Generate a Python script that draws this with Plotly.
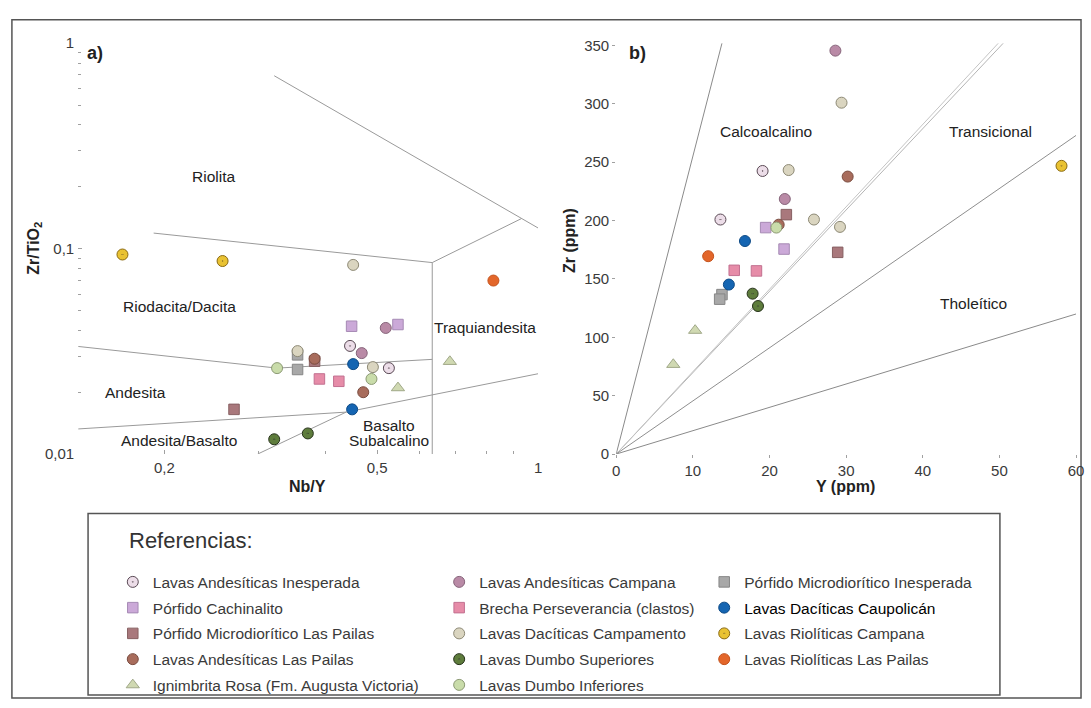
import numpy as np
import plotly.graph_objects as go

W, H = 1091, 708


def px(x):
    return x / W


def py(y):
    return 1 - y / H


# ---------------- Panel a data: Nb/Y (x) vs Zr/TiO2 (y) ----------------
a_inesperada_x = [0.445, 0.526]
a_inesperada_y = [0.0336, 0.0262]
a_cachinalito_x = [0.448, 0.547]
a_cachinalito_y = [0.0419, 0.0427]
a_pmd_pailas_x = [0.382, 0.270]
a_pmd_pailas_y = [0.0283, 0.0165]
a_and_pailas_x = [0.382, 0.471]
a_and_pailas_y = [0.0291, 0.0200]
a_ignimbrita_x = [0.684, 0.547]
a_ignimbrita_y = [0.0282, 0.0210]
a_and_campana_x = [0.519, 0.468]
a_and_campana_y = [0.0411, 0.0310]
a_brecha_x = [0.390, 0.424]
a_brecha_y = [0.0232, 0.0226]
a_campamento_x = [0.451, 0.355, 0.491]
a_campamento_y = [0.0833, 0.0317, 0.0265]
a_dumbo_sup_x = [0.321, 0.371]
a_dumbo_sup_y = [0.0118, 0.0126]
a_dumbo_inf_x = [0.325, 0.488]
a_dumbo_inf_y = [0.0262, 0.0232]
a_pmd_inesperada_x = [0.355, 0.355]
a_pmd_inesperada_y = [0.0304, 0.0258]
a_caupolican_x = [0.451, 0.449]
a_caupolican_y = [0.0274, 0.0165]
a_riol_campana_x = [0.167, 0.257]
a_riol_campana_y = [0.0936, 0.0870]
a_riol_pailas_x = [0.825]
a_riol_pailas_y = [0.0699]

# ---------------- Panel b data: Y (x) vs Zr (y), ppm ----------------
b_inesperada_x = [19.1, 13.6]
b_inesperada_y = [242.5, 200.9]
b_cachinalito_x = [19.5, 21.9]
b_cachinalito_y = [194.0, 175.6]
b_pmd_pailas_x = [22.2, 28.9]
b_pmd_pailas_y = [205.1, 172.8]
b_and_pailas_x = [30.2, 21.2]
b_and_pailas_y = [237.7, 196.5]
b_ignimbrita_x = [10.3, 7.45]
b_ignimbrita_y = [105.9, 76.7]
b_and_campana_x = [28.6, 22.0]
b_and_campana_y = [345.6, 218.5]
b_brecha_x = [15.4, 18.3]
b_brecha_y = [157.4, 156.9]
b_campamento_x = [29.4, 22.5, 29.2, 25.8]
b_campamento_y = [301.0, 243.3, 194.6, 200.9]
b_dumbo_sup_x = [17.8, 18.5]
b_dumbo_sup_y = [137.4, 126.8]
b_dumbo_inf_x = [20.9]
b_dumbo_inf_y = [194.0]
b_pmd_inesperada_x = [13.8, 13.5]
b_pmd_inesperada_y = [136.6, 132.7]
b_caupolican_x = [16.8, 14.7]
b_caupolican_y = [182.5, 145.2]
b_riol_campana_x = [58.1]
b_riol_campana_y = [246.9]
b_riol_pailas_x = [12.0]
b_riol_pailas_y = [169.5]

# ---------------- Field boundaries ----------------
# panel a (Winchester & Floyd type diagram), in data units
bnd_a_riolita_x = [0.321, 1.0]
bnd_a_riolita_y = [0.694, 0.126]
bnd_a_traq_diag_x = [0.634, 0.931]
bnd_a_traq_diag_y = [0.0855, 0.140]
bnd_a_riodacita_x = [0.191, 0.634]
bnd_a_riodacita_y = [0.119, 0.0855]
bnd_a_vert_x = [0.634, 0.634]
bnd_a_vert_y = [0.0855, 0.01]
bnd_a_andesita_x = [0.138, 0.325, 0.634]
bnd_a_andesita_y = [0.0334, 0.0262, 0.0289]
bnd_a_basalto_x = [0.138, 0.4375, 1.0]
bnd_a_basalto_y = [0.01325, 0.0160, 0.0246]
bnd_a_diag_x = [0.299, 0.4375]
bnd_a_diag_y = [0.01, 0.0160]
# panel b: Zr/Y ratio lines through the origin
bnd_b_slopes = [25.5, 6.97, 7.06, 4.55, 2.0]
bnd_b_colors = ["#8a8a8a", "#b4b4b4", "#c4c4c4", "#8e8e8e", "#8a8a8a"]

# ---------------- Series styles ----------------
series = [
    # name, a-data, b-data, symbol, fill, line, legend, zorder
    ("Lavas Andesíticas Inesperada", a_inesperada_x, a_inesperada_y, b_inesperada_x, b_inesperada_y,
     "circle-dot", "#ecdde8", "#5a4a55", "legend", 2),
    ("Pórfido Cachinalito", a_cachinalito_x, a_cachinalito_y, b_cachinalito_x, b_cachinalito_y,
     "square", "#cba9d8", "#a68ab4", "legend", 1),
    ("Pórfido Microdiorítico Las Pailas", a_pmd_pailas_x, a_pmd_pailas_y, b_pmd_pailas_x, b_pmd_pailas_y,
     "square", "#a9787c", "#876062", "legend", 1),
    ("Lavas Andesíticas Las Pailas", a_and_pailas_x, a_and_pailas_y, b_and_pailas_x, b_and_pailas_y,
     "circle", "#a86c5c", "#7a4c40", "legend", 2),
    ("Ignimbrita Rosa (Fm. Augusta Victoria)", a_ignimbrita_x, a_ignimbrita_y, b_ignimbrita_x, b_ignimbrita_y,
     "triangle-up", "#d0d9b2", "#a0a888", "legend", 2),
    ("Lavas Andesíticas Campana", a_and_campana_x, a_and_campana_y, b_and_campana_x, b_and_campana_y,
     "circle", "#b98aa6", "#87657b", "legend2", 2),
    ("Brecha Perseverancia (clastos)", a_brecha_x, a_brecha_y, b_brecha_x, b_brecha_y,
     "square", "#e68ca8", "#c27090", "legend2", 1),
    ("Lavas Dacíticas Campamento", a_campamento_x, a_campamento_y, b_campamento_x, b_campamento_y,
     "circle", "#dad5c0", "#8d8975", "legend2", 3),
    ("Lavas Dumbo Superiores", a_dumbo_sup_x, a_dumbo_sup_y, b_dumbo_sup_x, b_dumbo_sup_y,
     "circle-dot", "#5e7c3c", "#26321a", "legend2", 2),
    ("Lavas Dumbo Inferiores", a_dumbo_inf_x, a_dumbo_inf_y, b_dumbo_inf_x, b_dumbo_inf_y,
     "circle", "#c9dcaa", "#8c9a74", "legend2", 2),
    ("Pórfido Microdiorítico Inesperada", a_pmd_inesperada_x, a_pmd_inesperada_y, b_pmd_inesperada_x,
     b_pmd_inesperada_y, "square", "#a8a8a8", "#868686", "legend3", 1),
    ("<span style='color:#000'>Lavas Dacíticas Caupolicán</span>", a_caupolican_x, a_caupolican_y,
     b_caupolican_x, b_caupolican_y, "circle", "#1565b2", "#0d4a86", "legend3", 2),
    ("Lavas Riolíticas Campana", a_riol_campana_x, a_riol_campana_y, b_riol_campana_x, b_riol_campana_y,
     "circle-dot", "#e9c232", "#8a6a12", "legend3", 2),
    ("Lavas Riolíticas Las Pailas", a_riol_pailas_x, a_riol_pailas_y, b_riol_pailas_x, b_riol_pailas_y,
     "circle", "#e3662a", "#c4521c", "legend3", 2),
]

FONT = "Liberation Sans, Arial, sans-serif"

fig = go.Figure()

# boundaries panel a
for bx, by in [(bnd_a_riolita_x, bnd_a_riolita_y), (bnd_a_traq_diag_x, bnd_a_traq_diag_y),
               (bnd_a_riodacita_x, bnd_a_riodacita_y), (bnd_a_vert_x, bnd_a_vert_y),
               (bnd_a_andesita_x, bnd_a_andesita_y), (bnd_a_basalto_x, bnd_a_basalto_y),
               (bnd_a_diag_x, bnd_a_diag_y)]:
    fig.add_trace(go.Scatter(x=bx, y=by, mode="lines", line=dict(color="#9a9a9a", width=1),
                             showlegend=False, hoverinfo="skip", xaxis="x", yaxis="y", zorder=0))

# boundaries panel b
YMAX_B, XMAX_B = 352.0, 60.0
for s, c in zip(bnd_b_slopes, bnd_b_colors):
    xe = min(XMAX_B, YMAX_B / s)
    fig.add_trace(go.Scatter(x=[0, xe], y=[0, s * xe], mode="lines", line=dict(color=c, width=1),
                             showlegend=False, hoverinfo="skip", xaxis="x2", yaxis="y2", zorder=0))

for (name, ax, ay, bx, by, sym, fill, lc, leg, z) in series:
    size = 10.5 if sym == "square" else (11.5 if sym.startswith("triangle") else 11)
    mk = dict(symbol=sym, size=size, color=fill, line=dict(color=lc, width=1))
    fig.add_trace(go.Scatter(x=ax, y=ay, mode="markers", name=name, marker=mk, legend=leg,
                             legendgroup=name, showlegend=True, xaxis="x", yaxis="y", zorder=z))
    fig.add_trace(go.Scatter(x=bx, y=by, mode="markers", name=name, marker=mk, legend=leg,
                             legendgroup=name, showlegend=False, xaxis="x2", yaxis="y2", zorder=z))

tickfont = dict(family=FONT, size=15, color="#3a3a3a")
axcommon = dict(showgrid=False, zeroline=False, showline=True, mirror=True, linecolor="#a0a0a0",
                linewidth=1, tickfont=tickfont, tickcolor="#a0a0a0")

fig.update_layout(
    width=W, height=H, autosize=False,
    margin=dict(l=0, r=0, t=0, b=0),
    paper_bgcolor="white", plot_bgcolor="white",
    font=dict(family=FONT, color="#333"),
    xaxis=dict(domain=[px(75), px(540)], type="log", range=[np.log10(0.138), 0],
               tickvals=[0.2, 0.5, 1], ticktext=["0,2", "0,5", "1"], ticks="inside", ticklen=4,
               minor=dict(tickvals=[0.3, 0.4, 0.6, 0.7, 0.8, 0.9], ticks="inside", ticklen=3,
                          tickcolor="#a0a0a0", showgrid=False),
               anchor="y", **axcommon),
    yaxis=dict(domain=[py(456), py(35)], type="log", range=[-2, 0],
               tickvals=[0.01, 0.1, 1], ticktext=["0,01", "0,1", "1"], ticks="inside", ticklen=4,
               minor=dict(tickvals=[k * m for m in (0.01, 0.1) for k in range(2, 10)], ticks="inside",
                          ticklen=3, tickcolor="#a0a0a0", showgrid=False),
               anchor="x", **axcommon),
    xaxis2=dict(domain=[px(619), px(1084)], range=[0, XMAX_B], tickvals=[0, 10, 20, 30, 40, 50, 60],
                ticks="outside", ticklen=3, anchor="y2", **axcommon),
    yaxis2=dict(domain=[py(456), py(35)], range=[0, YMAX_B], tickvals=[0, 50, 100, 150, 200, 250, 300, 350],
                ticks="outside", ticklen=3, anchor="x2", **axcommon),
)

legfont = dict(family=FONT, size=15.5, color="#3a3a3a")
for key, xl in [("legend", 110), ("legend2", 440), ("legend3", 708)]:
    fig.update_layout(**{key: dict(x=px(xl), y=py(570), xanchor="left", yanchor="top",
                                   bgcolor="rgba(0,0,0,0)", borderwidth=0, font=legfont,
                                   traceorder="grouped", tracegroupgap=2.6, itemclick=False,
                                   itemdoubleclick=False)})

ann = []


def label(text, x, y, size=15.5, bold=False, angle=0, xanchor="center", color="#222"):
    t = f"<b>{text}</b>" if bold else text
    ann.append(dict(text=t, x=px(x), y=py(y), xref="paper", yref="paper", showarrow=False,
                    xanchor=xanchor, yanchor="middle", textangle=angle,
                    font=dict(family=FONT, size=size, color=color)))


# panel a texts
label("a)", 82, 45, size=18, bold=True, xanchor="left")
label("Riolita", 212, 172)
label("Riodacita/Dacita", 177, 305)
label("Traquiandesita", 486, 326)
label("Andesita", 133, 393)
label("Andesita/Basalto", 177, 442)
label("Basalto", 389, 427)
label("Subalcalino", 389, 442)
# panel b texts
label("b)", 630, 45, size=18, bold=True, xanchor="left")
label("Calcoalcalino", 770, 126)
label("Transicional", 997, 126)
label("Tholeítico", 980, 302)
# axis titles
label("Zr/TiO<sub>2</sub>", 30, 245, size=16, bold=True, angle=-90)
label("Nb/Y", 307, 489, size=16, bold=True)
label("Zr (ppm)", 572, 237, size=16, bold=True, angle=-90)
label("Y (ppm)", 851, 489, size=16, bold=True)
# legend heading
label("Referencias:", 124, 545, size=22, xanchor="left", color="#333")

fig.update_layout(annotations=ann)

shapes = [
    dict(type="rect", xref="paper", yref="paper", x0=px(8), x1=px(1089), y0=py(706), y1=py(11),
         line=dict(color="#555", width=1.5), fillcolor="rgba(0,0,0,0)", layer="below"),
    dict(type="rect", xref="paper", yref="paper", x0=px(85), x1=px(1007), y0=py(703), y1=py(517),
         line=dict(color="#555", width=1.5), fillcolor="rgba(0,0,0,0)", layer="below"),
]
fig.update_layout(shapes=shapes)

fig.write_html("out.html")
